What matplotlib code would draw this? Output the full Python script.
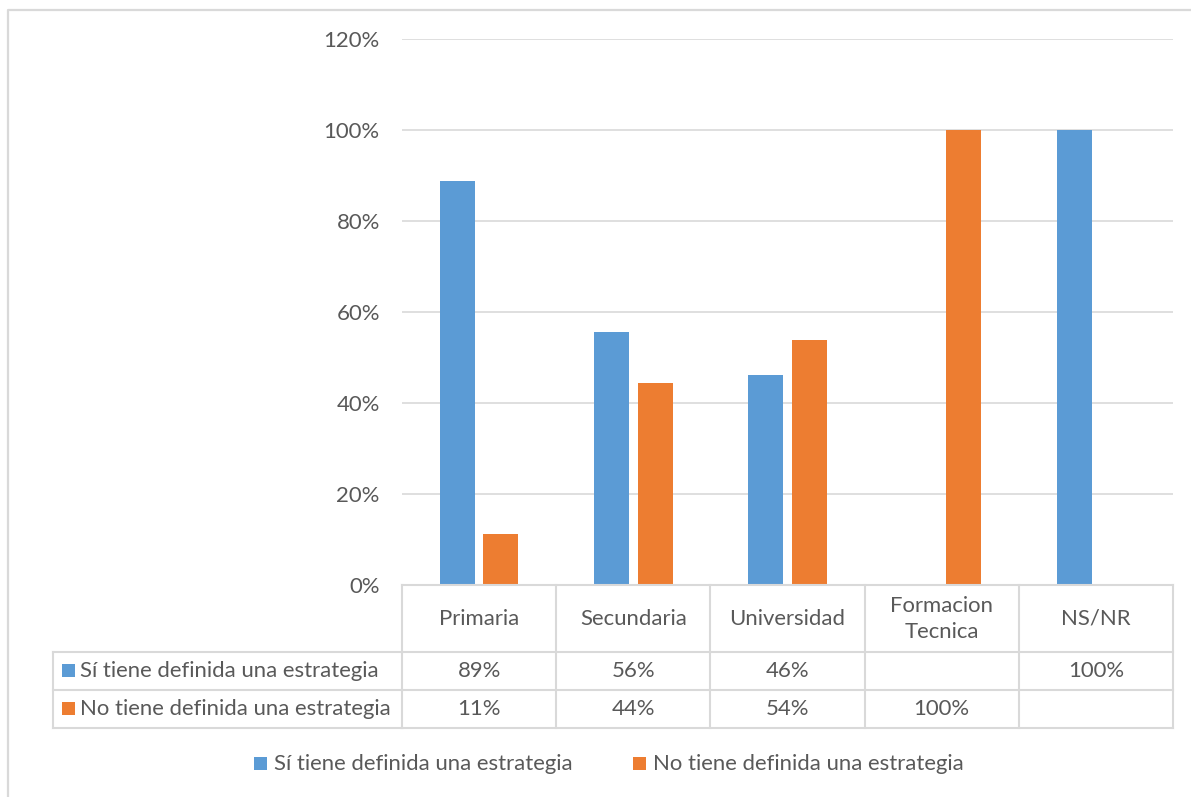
import numpy as np
import matplotlib
matplotlib.use("Agg")
import matplotlib.pyplot as plt
from matplotlib.transforms import Affine2D, blended_transform_factory
from matplotlib.lines import Line2D
from matplotlib.patches import Rectangle

# --- data -------------------------------------------------------------
categories = ["Primaria", "Secundaria", "Universidad", "Formacion\nTecnica", "NS/NR"]
series_names = ["Sí tiene definida una estrategia", "No tiene definida una estrategia"]
si_tiene = [0.889, 0.556, 0.462, np.nan, 1.0]
no_tiene = [0.111, 0.444, 0.538, 1.0, np.nan]
y_ticks = [0.0, 0.2, 0.4, 0.6, 0.8, 1.0, 1.2]

# --- style ------------------------------------------------------------
BLUE = "#5B9BD5"
ORANGE = "#ED7D31"
GRID = "#D9D9D9"
TEXT = "#595959"
FS = 15.9
plt.rcParams["font.family"] = ["Lato", "DejaVu Sans"]

W, H = 1191, 797
fig = plt.figure(figsize=(W / 100, H / 100), dpi=100)
# pixel coordinates measured from the top-left corner of the figure
px = Affine2D().scale(1 / W, -1 / H).translate(0, 1) + fig.transFigure

ax = fig.add_axes([402 / W, 1 - 585 / H, 771 / W, 546 / H])
x = np.arange(len(categories))
bar_w = 0.227
off = 0.142
ax.bar(x - off, si_tiene, width=bar_w, color=BLUE, zorder=3)
ax.bar(x + off, no_tiene, width=bar_w, color=ORANGE, zorder=3)

ax.set_xlim(-0.5, len(categories) - 0.5)
ax.set_ylim(0, 1.2)
ax.set_xticks([])
ax.set_yticks(y_ticks)
ax.set_yticklabels([f"{int(round(t * 100))}%" for t in y_ticks])
ax.tick_params(axis="y", length=0, pad=16, labelsize=FS, labelcolor=TEXT)
for s in ax.spines.values():
    s.set_visible(False)
ax.grid(axis="y", color=GRID, linewidth=1.2, zorder=0)
ax.set_axisbelow(True)

# --- data table under the plot ----------------------------------------
blend = blended_transform_factory(ax.transData, px)
lw = 1.5
row_top, row1, row2, row_bot = 585, 652, 690, 728
lbl_left = 53
xmin, xmax = -0.5, len(categories) - 0.5

def line(xs, ys, tr):
    fig.add_artist(Line2D(xs, ys, transform=tr, color=GRID, linewidth=lw,
                          solid_capstyle="projecting"))

line([xmin, xmax], [row_top, row_top], blend)
for yy in (row1, row2, row_bot):
    line([xmin, xmax], [yy, yy], blend)
    line([lbl_left, 402], [yy, yy], px)
for i in range(len(categories) + 1):
    line([i - 0.5, i - 0.5], [row_top, row_bot], blend)
line([lbl_left, lbl_left], [row1, row_bot], px)

for i, c in enumerate(categories):
    fig.text(i, 619, c, transform=blend, ha="center", va="center",
             fontsize=FS, color=TEXT, linespacing=1.35)

def fmt(v):
    return "" if np.isnan(v) else f"{int(round(v * 100))}%"

row_centers = [671, 709]
for vals, yc, name, col in zip([si_tiene, no_tiene], row_centers, series_names, [BLUE, ORANGE]):
    for i, v in enumerate(vals):
        fig.text(i, yc, fmt(v), transform=blend, ha="center", va="center",
                 fontsize=FS, color=TEXT)
    fig.add_artist(Rectangle((62, yc - 6.5), 13, 13, transform=px,
                             facecolor=col, edgecolor="none"))
    fig.text(80, yc, name, transform=px, ha="left", va="center",
             fontsize=FS, color=TEXT)

# --- legend -----------------------------------------------------------
leg_y = 764
for lx, name, col in zip([254, 633], series_names, [BLUE, ORANGE]):
    fig.add_artist(Rectangle((lx, leg_y - 6.5), 13, 13, transform=px,
                             facecolor=col, edgecolor="none"))
    fig.text(lx + 20, leg_y, name, transform=px, ha="left", va="center",
             fontsize=FS, color=TEXT)

# chart area border
fig.add_artist(Line2D([8, 8, W + 5], [H + 5, 10, 10], transform=px,
                      color=GRID, linewidth=1.6))

fig.savefig("out.png", dpi=100, facecolor="white")
